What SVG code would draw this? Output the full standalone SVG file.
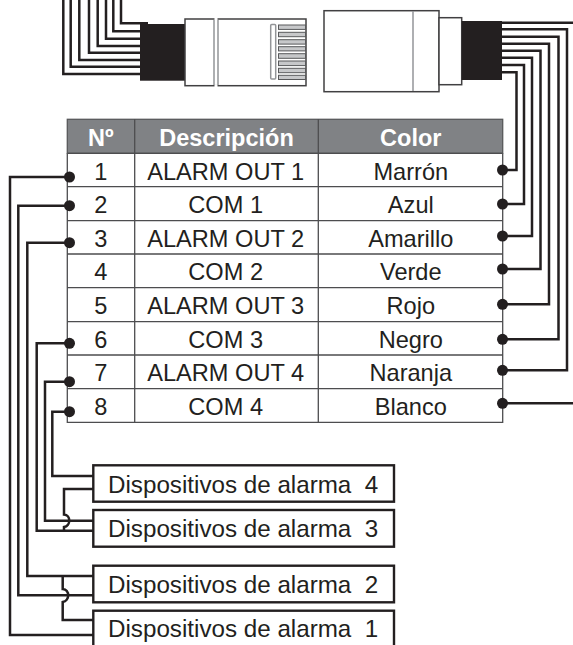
<svg xmlns="http://www.w3.org/2000/svg" width="573" height="645" viewBox="0 0 573 645">
<style>
.w{fill:none;stroke:#231f20;stroke-width:2.500}
.c{fill:none;stroke:#4d4d4f;stroke-width:1.300}
.g{fill:none;stroke:#939598;stroke-width:1.500}
.o{fill:#fff;stroke:#414042;stroke-width:1.500}
.p{fill:#c7c8ca;stroke:#58595b;stroke-width:1}
.b{fill:#231f20}
.d{fill:#231f20}
text{font-family:"Liberation Sans",Arial,sans-serif;fill:#231f20;font-size:23.600px;text-anchor:middle}
.h{font-weight:bold;fill:#fff;font-size:23.500px}
.a{text-anchor:start;font-size:24.200px;white-space:pre}
.bx{fill:#fff;stroke:#231f20;stroke-width:2.400}
</style>
<g id="plug-left">
<g id="plug-left-wires">
<path class="w" d="M63.3 0V74H141M70.7 0V66.7H141M79.3 0V60H141M89 0V52.7H141M97.7 0V46H141M106 0V38.7H141M113.3 0V31.3H141M121 0V23.3H148"/>
</g>
<rect class="b" x="140" y="24" width="45.500" height="56.700"/>
<rect class="o" x="185" y="19" width="121" height="66.700"/>
<path class="g" d="M214 20V85M218 20V85"/>
<rect x="214.500" y="17" width="3" height="3" fill="#fff"/>
<rect x="214.500" y="85" width="3" height="2" fill="#fff"/>
<rect class="g" x="270.700" y="24.500" width="5" height="54.500" rx="1"/>
<rect class="p" x="278.500" y="25" width="27" height="4.400"/>
<rect class="p" x="278.500" y="32.300" width="27" height="4.400"/>
<rect class="p" x="278.500" y="39.700" width="27" height="4.400"/>
<rect class="p" x="278.500" y="46.700" width="27" height="4.200"/>
<rect class="p" x="278.500" y="53.700" width="27" height="4.600"/>
<rect class="p" x="278.500" y="61" width="27" height="4.600"/>
<rect class="p" x="278.500" y="68.300" width="27" height="4.400"/>
<rect class="p" x="278.500" y="75.300" width="27" height="4.200"/>
</g>
<g id="plug-right">
<rect class="o" x="324" y="10.700" width="115" height="81"/>
<path class="g" d="M413 11V91"/>
<rect class="o" x="439" y="17.700" width="22.700" height="67"/>
<rect class="b" x="461.700" y="21" width="40.300" height="59"/>
</g>
<g id="table">
<rect x="67.300" y="119.300" width="435.400" height="34" fill="#808285" stroke="#58595b" stroke-width="1.300"/>
<rect x="67.300" y="153.300" width="435.400" height="269" fill="#fff"/>
<path class="c" d="M67.300 153.300V422.300H502.700V153.300M67.300 153.300H502.700M67.300 186.700H502.700M67.300 220.700H502.700M67.300 254H502.700M67.300 287.700H502.700M67.300 321.700H502.700M67.300 355H502.700M67.300 388.700H502.700M134.700 119.300V422.300M318.300 119.300V422.300"/>
<text class="h" x="100.800" y="146">Nº</text>
<text class="h" x="226.500" y="146">Descripción</text>
<text class="h" x="410.800" y="146">Color</text>
<g id="row-1"><text x="100.800" y="180">1</text><text x="225.700" y="180">ALARM OUT 1</text><text x="410.800" y="180">Marrón</text></g>
<g id="row-2"><text x="100.800" y="213">2</text><text x="225.700" y="213">COM 1</text><text x="410.800" y="213">Azul</text></g>
<g id="row-3"><text x="100.800" y="246.700">3</text><text x="225.700" y="246.700">ALARM OUT 2</text><text x="410.800" y="246.700">Amarillo</text></g>
<g id="row-4"><text x="100.800" y="280">4</text><text x="225.700" y="280">COM 2</text><text x="410.800" y="280">Verde</text></g>
<g id="row-5"><text x="100.800" y="314">5</text><text x="225.700" y="314">ALARM OUT 3</text><text x="410.800" y="314">Rojo</text></g>
<g id="row-6"><text x="100.800" y="348">6</text><text x="225.700" y="348">COM 3</text><text x="410.800" y="348">Negro</text></g>
<g id="row-7"><text x="100.800" y="381.300">7</text><text x="225.700" y="381.300">ALARM OUT 4</text><text x="410.800" y="381.300">Naranja</text></g>
<g id="row-8"><text x="100.800" y="414.700">8</text><text x="225.700" y="414.700">COM 4</text><text x="410.800" y="414.700">Blanco</text></g>
</g>
<g id="connectors">
<path class="w" d="M502 22.700H573M502 29.300H567V370.300H503M502 36.700H558.500V339.300H503M502 43.700H549V304.300H503M502 50.700H540.500V269H503M502 57.700H532V236H503M502 65H524V204H503M502 72.300H516.500V170H503M503 403.300H573"/>
<path class="w" d="M69 177H10V635H93M69 205.700H18.300V595.300H93M69 242.700H27.300V576H93M69 343.300H36.700V530.700H93M69 381.700H45V520.700H93M69 411.700H52.300V476H93"/>
<path class="w" d="M93 489H64V514.500C71 515 71 526 64 527V530.700M62.700 576V589C70 589.500 70 601 62.700 602V620H93"/>
<g class="d">
<circle cx="502.500" cy="170" r="5.500"/><circle cx="502.500" cy="204" r="5.500"/><circle cx="502.500" cy="236" r="5.500"/><circle cx="502.500" cy="269" r="5.500"/><circle cx="502.500" cy="304.300" r="5.500"/><circle cx="502.500" cy="339.300" r="5.500"/><circle cx="502.500" cy="370.300" r="5.500"/><circle cx="502.500" cy="403.300" r="5.500"/>
<circle cx="69.500" cy="177" r="5.500"/><circle cx="69.500" cy="205.700" r="5.500"/><circle cx="69.500" cy="242.700" r="5.500"/><circle cx="69.500" cy="343.300" r="5.500"/><circle cx="69.500" cy="381.700" r="5.500"/><circle cx="69.500" cy="411.700" r="5.500"/>
</g>
</g>
<g id="alarm-4"><rect class="bx" x="93.300" y="465.300" width="300.700" height="36.400"/><text class="a" x="108" y="492.700">Dispositivos de alarma  4</text></g>
<g id="alarm-3"><rect class="bx" x="93.300" y="510" width="300.700" height="36.700"/><text class="a" x="108" y="537.300">Dispositivos de alarma  3</text></g>
<g id="alarm-2"><rect class="bx" x="93.300" y="565.700" width="300.700" height="36.600"/><text class="a" x="108" y="592.700">Dispositivos de alarma  2</text></g>
<g id="alarm-1"><rect class="bx" x="93.300" y="610.700" width="300.700" height="50"/><text class="a" x="108" y="637.300">Dispositivos de alarma  1</text></g>
</svg>
